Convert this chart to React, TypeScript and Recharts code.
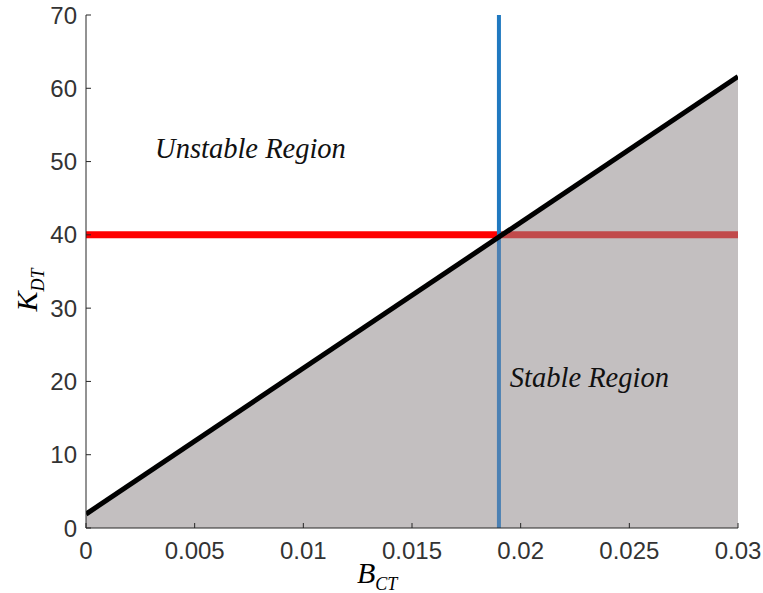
import React from "react";
import {
  Area,
  ComposedChart,
  Label,
  Line,
  ReferenceDot,
  XAxis,
  YAxis,
} from "recharts";

// stability boundary K_DT(B_CT), read at the two ends of the plot
const boundaryB = [0, 0.03];
const boundaryK = [1.9, 61.6];

// operating point: K_DT = 40, critical B_CT = 0.019
const gainK = 40;
const criticalB = 0.019;

const xTicks = [0, 0.005, 0.01, 0.015, 0.02, 0.025, 0.03];
const yTicks = [0, 10, 20, 30, 40, 50, 60, 70];
const xDomain = [0, 0.03];
const yDomain = [0, 70];

const boundary = boundaryB.map((b, i) => ({ b, k: boundaryK[i] }));
// the shaded patch sits on top of the red/blue lines in the original,
// so the parts inside the stable region are drawn in the blended colour
const gainLineOut = [{ b: xDomain[0], k: gainK }, { b: criticalB, k: gainK }];
const gainLineIn = [{ b: criticalB, k: gainK }, { b: xDomain[1], k: gainK }];
const criticalLineIn = [{ b: criticalB, k: yDomain[0] }, { b: criticalB, k: gainK }];
const criticalLineOut = [{ b: criticalB, k: gainK }, { b: criticalB, k: yDomain[1] }];

const axisColor = "#262626";
const sans = "Liberation Sans, Arial, sans-serif";
const tickFont = { fontSize: 24, fill: "#333", fontFamily: sans };
const serif = "Liberation Serif, Times New Roman, serif";
const noteStyle = { fontFamily: serif, fontStyle: "italic", fontSize: 28.5, fill: "#111" };

const fmtX = (v: number) => (v === 0 ? "0" : String(v));

const seg = (data: { b: number; k: number }[], color: string, width: number) => (
  <Line
    xAxisId="b"
    yAxisId="k"
    data={data}
    dataKey="k"
    type="linear"
    stroke={color}
    strokeWidth={width}
    dot={false}
    activeDot={false}
    isAnimationActive={false}
  />
);

export default function App() {
  return (
    <div style={{ position: "absolute", left: 0, top: 0, background: "#fff" }}>
      <ComposedChart
        width={763}
        height={593}
        margin={{ top: 15, right: 25, bottom: 0, left: 0 }}
      >
        <XAxis
          xAxisId="b"
          dataKey="b"
          type="number"
          domain={xDomain}
          ticks={xTicks}
          tickFormatter={fmtX}
          allowDataOverflow
          height={65}
          tickSize={-5}
          tickMargin={19}
          fontSize={24}
          tick={tickFont}
          stroke={axisColor}
        >
          <Label
            content={({ viewBox }: any) => (
              <text
                x={viewBox.x + 271}
                y={viewBox.y + 55}
                fontFamily={serif}
                fontStyle="italic"
                fontSize={30}
                fill="#000"
              >
                B
                <tspan fontSize={18} dy={7}>
                  CT
                </tspan>
              </text>
            )}
          />
        </XAxis>
        <XAxis
          xAxisId="top"
          orientation="top"
          dataKey="b"
          type="number"
          domain={xDomain}
          ticks={xTicks}
          allowDataOverflow
          height={0}
          mirror
          tickSize={5}
          tick={{ fill: "none" }}
          stroke={axisColor}
        />
        <YAxis
          yAxisId="k"
          dataKey="k"
          type="number"
          domain={yDomain}
          ticks={yTicks}
          allowDataOverflow
          width={86}
          tickSize={-5}
          tickMargin={14}
          fontSize={24}
          tick={tickFont}
          stroke={axisColor}
        >
          <Label
            content={({ viewBox }: any) => (
              <text
                transform={`translate(${viewBox.x + 37}, ${viewBox.y + viewBox.height / 2 + 40}) rotate(-90)`}
                fontFamily={serif}
                fontStyle="italic"
                fontSize={30}
                fill="#000"
              >
                K
                <tspan fontSize={18} dy={7}>
                  DT
                </tspan>
              </text>
            )}
          />
        </YAxis>
        <YAxis
          yAxisId="r"
          orientation="right"
          dataKey="k"
          type="number"
          domain={yDomain}
          ticks={yTicks}
          allowDataOverflow
          width={0}
          mirror
          tickSize={5}
          tick={{ fill: "none" }}
          stroke={axisColor}
        />

        <Area
          xAxisId="b"
          yAxisId="k"
          data={boundary}
          dataKey="k"
          type="linear"
          stroke="none"
          fill="#c3bfc0"
          fillOpacity={1}
          isAnimationActive={false}
        />
        {seg(gainLineOut, "#ff0000", 7)}
        {seg(gainLineIn, "#c14a4b", 7)}
        {seg(criticalLineIn, "#4b80b3", 4)}
        {seg(criticalLineOut, "#2079c0", 4)}
        {seg(boundary, "#000", 5)}

        <ReferenceDot
          xAxisId="b"
          yAxisId="k"
          x={0.00318}
          y={51.8}
          r={0}
          label={{ value: "Unstable Region", position: "right", offset: 0, style: noteStyle }}
        />
        <ReferenceDot
          xAxisId="b"
          yAxisId="k"
          x={0.0195}
          y={20.6}
          r={0}
          label={{ value: "Stable Region", position: "right", offset: 0, style: noteStyle }}
        />
      </ComposedChart>
    </div>
  );
}
